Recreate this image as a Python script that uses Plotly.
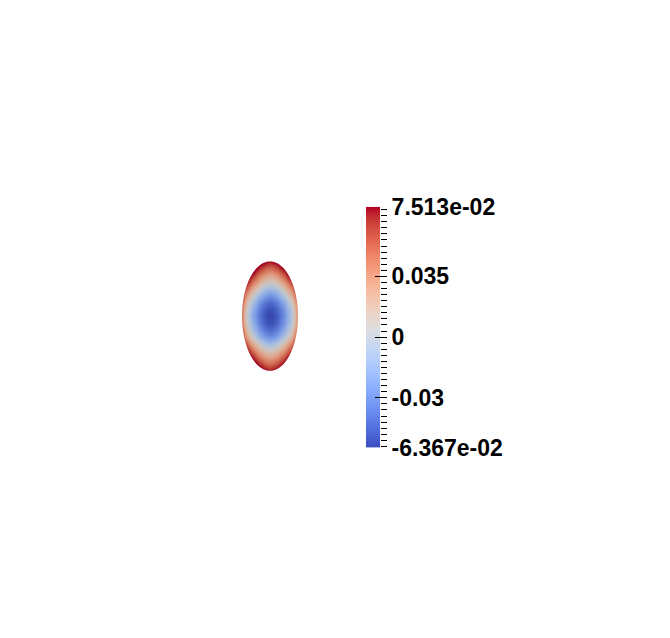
import numpy as np
import plotly.graph_objects as go

# ---- data ----
value_min = -0.06367
value_max = 0.07513

# sample positions along the ellipse axes (in units of the semi-axis)
axis_samples = [-1.0, -0.875, -0.75, -0.625, -0.5, -0.375, -0.25, -0.125, 0.0,
                0.125, 0.25, 0.375, 0.5, 0.625, 0.75, 0.875, 1.0]
# field values read from centre to edge along the horizontal centre line
x_half = [-0.0637, -0.061, -0.055, -0.046, -0.035, -0.022, -0.008, 0.012, 0.042]
# field values read from centre to edge along the vertical centre line
y_half = [-0.0637, -0.060, -0.050, -0.035, -0.015, 0.008, 0.030, 0.052, 0.0751]
x_profile = x_half[::-1] + x_half[1:]
y_profile = y_half[::-1] + y_half[1:]
center_value = -0.0637

semi_a = 0.5   # horizontal semi-axis (data units)
semi_b = 1.0   # vertical semi-axis

major_tickvals = [-0.035, 0.0, 0.035]
major_ticktext = ["-0.03", "0", "0.035"]
end_tickvals = [value_min, value_max]
end_ticktext = ["-6.367e-02", "7.513e-02"]
minor_tickvals = [round(0.0035 * k, 4) for k in range(-18, 22) if k not in (-10, 0, 10)]

# cool-to-warm colour map
cw = [
    (59, 76, 192), (68, 90, 204), (77, 104, 215), (87, 117, 225), (98, 130, 234),
    (108, 142, 241), (119, 154, 247), (130, 165, 251), (141, 176, 254), (152, 185, 255),
    (163, 194, 255), (174, 201, 253), (184, 208, 249), (194, 213, 244), (204, 217, 238),
    (213, 219, 230), (221, 221, 221), (229, 216, 209), (236, 211, 197), (241, 204, 185),
    (245, 196, 173), (247, 187, 160), (247, 177, 148), (247, 166, 135), (244, 154, 123),
    (241, 141, 111), (236, 127, 99), (229, 112, 88), (222, 96, 77), (213, 80, 66),
    (203, 62, 56), (192, 40, 47), (180, 4, 38)]
colorscale = [[i / (len(cw) - 1), "rgb(%d,%d,%d)" % c] for i, c in enumerate(cw)]
shade = 0.9  # lit surface appears slightly darker than the legend bar
colorscale_lit = [[i / (len(cw) - 1), "rgb(%d,%d,%d)" % tuple(int(v * shade) for v in c)]
                  for i, c in enumerate(cw)]

# ---- field table ----
z = [[xv + yv - center_value for xv in x_profile] for yv in y_profile]
xs = [s * semi_a for s in axis_samples]
ys = [s * semi_b for s in axis_samples]

W, H = 670, 638
fig = go.Figure()

fig.add_trace(go.Heatmap(
    x=xs, y=ys, z=z, zmin=value_min, zmax=value_max, colorscale=colorscale_lit,
    zsmooth="best", showscale=False, hoverinfo="skip", xaxis="x", yaxis="y"))

# white mask outside the ellipse
t = np.linspace(0, -2 * np.pi, 181)
ex = semi_a * np.cos(t)
ey = semi_b * np.sin(t)
path = "M -1,-1.2 L 1,-1.2 L 1,1.2 L -1,1.2 Z M " + " L ".join(
    "%.5f,%.5f" % (a, b) for a, b in zip(ex, ey)) + " Z"
fig.add_shape(type="path", path=path, xref="x", yref="y",
              fillcolor="white", line=dict(width=0), layer="above")

# colour bar
fig.add_trace(go.Heatmap(
    x=[0, 1], y=[value_min, value_max],
    z=[[value_min, value_min], [value_max, value_max]],
    zmin=value_min, zmax=value_max, colorscale=colorscale, zsmooth="best",
    showscale=False, hoverinfo="skip", xaxis="x2", yaxis="y2"))
for ax in ["y3", "y4", "y5"]:
    fig.add_trace(go.Scatter(x=[None], y=[None], xaxis="x2", yaxis=ax,
                             showlegend=False, hoverinfo="skip"))

px_x = lambda p: p / W
px_y = lambda p: (H - p) / H

ax_hidden = dict(visible=False, showgrid=False, zeroline=False, fixedrange=True)
tickfont = dict(family="Liberation Sans", size=23, color="black", weight="bold")

fig.update_layout(
    width=W, height=H, margin=dict(l=0, r=0, t=0, b=0),
    paper_bgcolor="white", plot_bgcolor="rgba(0,0,0,0)", showlegend=False,
    xaxis=dict(domain=[px_x(214), px_x(326)], range=[-1, 1], **ax_hidden),
    yaxis=dict(domain=[px_y(316 + 1.2 * 57), px_y(316 - 1.2 * 57)], range=[-1.2, 1.2], **ax_hidden),
    xaxis2=dict(domain=[px_x(366), px_x(380)], range=[-0.5, 1.5], anchor="y2", **ax_hidden),
    yaxis2=dict(domain=[px_y(453), px_y(202)], range=[value_min, value_max], anchor="x2", **ax_hidden),
    yaxis3=dict(overlaying="y2", anchor="free", position=px_x(374), side="right",
                range=[value_min, value_max], tickmode="array", tickvals=major_tickvals,
                ticktext=major_ticktext, ticks="outside", ticklen=12, tickwidth=1.3,
                tickcolor="black", showgrid=False, zeroline=False, showline=False,
                tickfont=tickfont, fixedrange=True),
    yaxis4=dict(overlaying="y2", anchor="free", position=px_x(380), side="right",
                range=[value_min, value_max], tickmode="array", tickvals=minor_tickvals,
                ticks="outside", ticklen=6, tickwidth=1.3, tickcolor="black",
                showticklabels=False, showgrid=False, zeroline=False, showline=False,
                fixedrange=True),
    yaxis5=dict(overlaying="y2", anchor="free", position=px_x(374), side="right",
                range=[value_min, value_max], tickmode="array", tickvals=end_tickvals,
                ticktext=end_ticktext, ticks="outside", ticklen=12,
                tickcolor="rgba(0,0,0,0)", showgrid=False, zeroline=False, showline=False,
                tickfont=tickfont, fixedrange=True),
)

fig.write_html("out.html", config={"displayModeBar": False},
               post_script="document.body.style.margin='0';")
